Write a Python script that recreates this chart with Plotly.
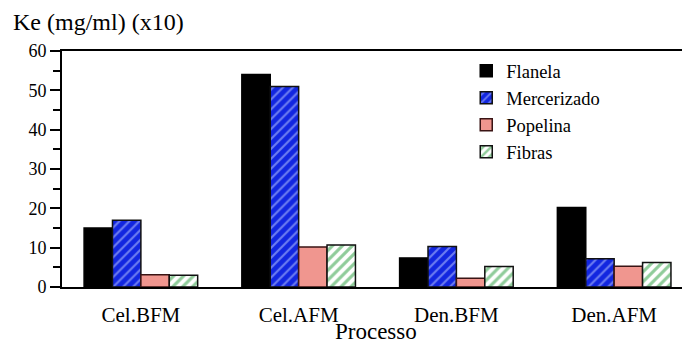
import plotly.graph_objects as go

categories = ["Cel.BFM", "Cel.AFM", "Den.BFM", "Den.AFM"]
flanela = [15, 54, 7.4, 20.2]
mercerizado = [17, 51, 10.3, 7.2]
popelina = [3.1, 10.2, 2.2, 5.3]
fibras = [3.0, 10.7, 5.2, 6.2]

FONT = '"Liberation Serif", "Times New Roman", serif'

fig = go.Figure()
fig.add_trace(go.Bar(name="Flanela", x=categories, y=flanela,
                     marker=dict(color="#000000", line=dict(color="#000000", width=1.5))))
fig.add_trace(go.Bar(name="Mercerizado", x=categories, y=mercerizado,
                     marker=dict(color="#1226e0",
                                 line=dict(color="#111111", width=1.5),
                                 pattern=dict(shape="/", bgcolor="#1226e0", fgcolor="#c8d4ff",
                                              size=7, solidity=0.3, fillmode="overlay"))))
fig.add_trace(go.Bar(name="Popelina", x=categories, y=popelina,
                     marker=dict(color="#f0968f", line=dict(color="#3a1414", width=1.5))))
fig.add_trace(go.Bar(name="Fibras", x=categories, y=fibras,
                     marker=dict(color="#ffffff",
                                 line=dict(color="#111111", width=1.5),
                                 pattern=dict(shape="/", bgcolor="#ffffff", fgcolor="#1f9a35",
                                              size=7, solidity=0.45, fillmode="overlay"))))

fig.update_layout(
    width=682, height=345,
    margin=dict(l=62, r=0, t=51, b=58),
    paper_bgcolor="white", plot_bgcolor="white",
    barmode="group", bargap=0.28, bargroupgap=0,
    font=dict(family=FONT, color="#000000", size=18),
    showlegend=True,
    legend=dict(x=0.652, y=0.995, xanchor="left", yanchor="top",
                font=dict(family=FONT, size=18.5), bgcolor="rgba(0,0,0,0)",
                itemwidth=30, tracegroupgap=0),
    annotations=[
        dict(text="Ke (mg/ml) (x10)", xref="paper", yref="paper", x=-0.082, y=1.125,
             xanchor="left", yanchor="middle", showarrow=False,
             font=dict(family=FONT, size=24)),
        dict(text="Processo", xref="paper", yref="paper", x=0.507, y=-0.19,
             xanchor="center", yanchor="middle", showarrow=False,
             font=dict(family=FONT, size=23)),
    ],
)
fig.update_xaxes(
    range=[-0.5, 3.43], showline=True, linecolor="#000000", linewidth=2, mirror=True,
    ticks="", showgrid=False, zeroline=False,
    tickfont=dict(family=FONT, size=21), ticklabelstandoff=8,
)
fig.update_yaxes(
    range=[0, 60], dtick=10, showline=True, linecolor="#000000", linewidth=2,
    ticks="outside", ticklen=10, tickwidth=2, tickcolor="#000000",
    minor=dict(dtick=5, ticks="outside", ticklen=7, tickwidth=2, tickcolor="#000000"),
    showgrid=False, zeroline=False,
    tickfont=dict(family=FONT, size=18),
)

fig.write_html("out.html", config={"displayModeBar": False},
               post_script="document.body.style.margin='0';")
